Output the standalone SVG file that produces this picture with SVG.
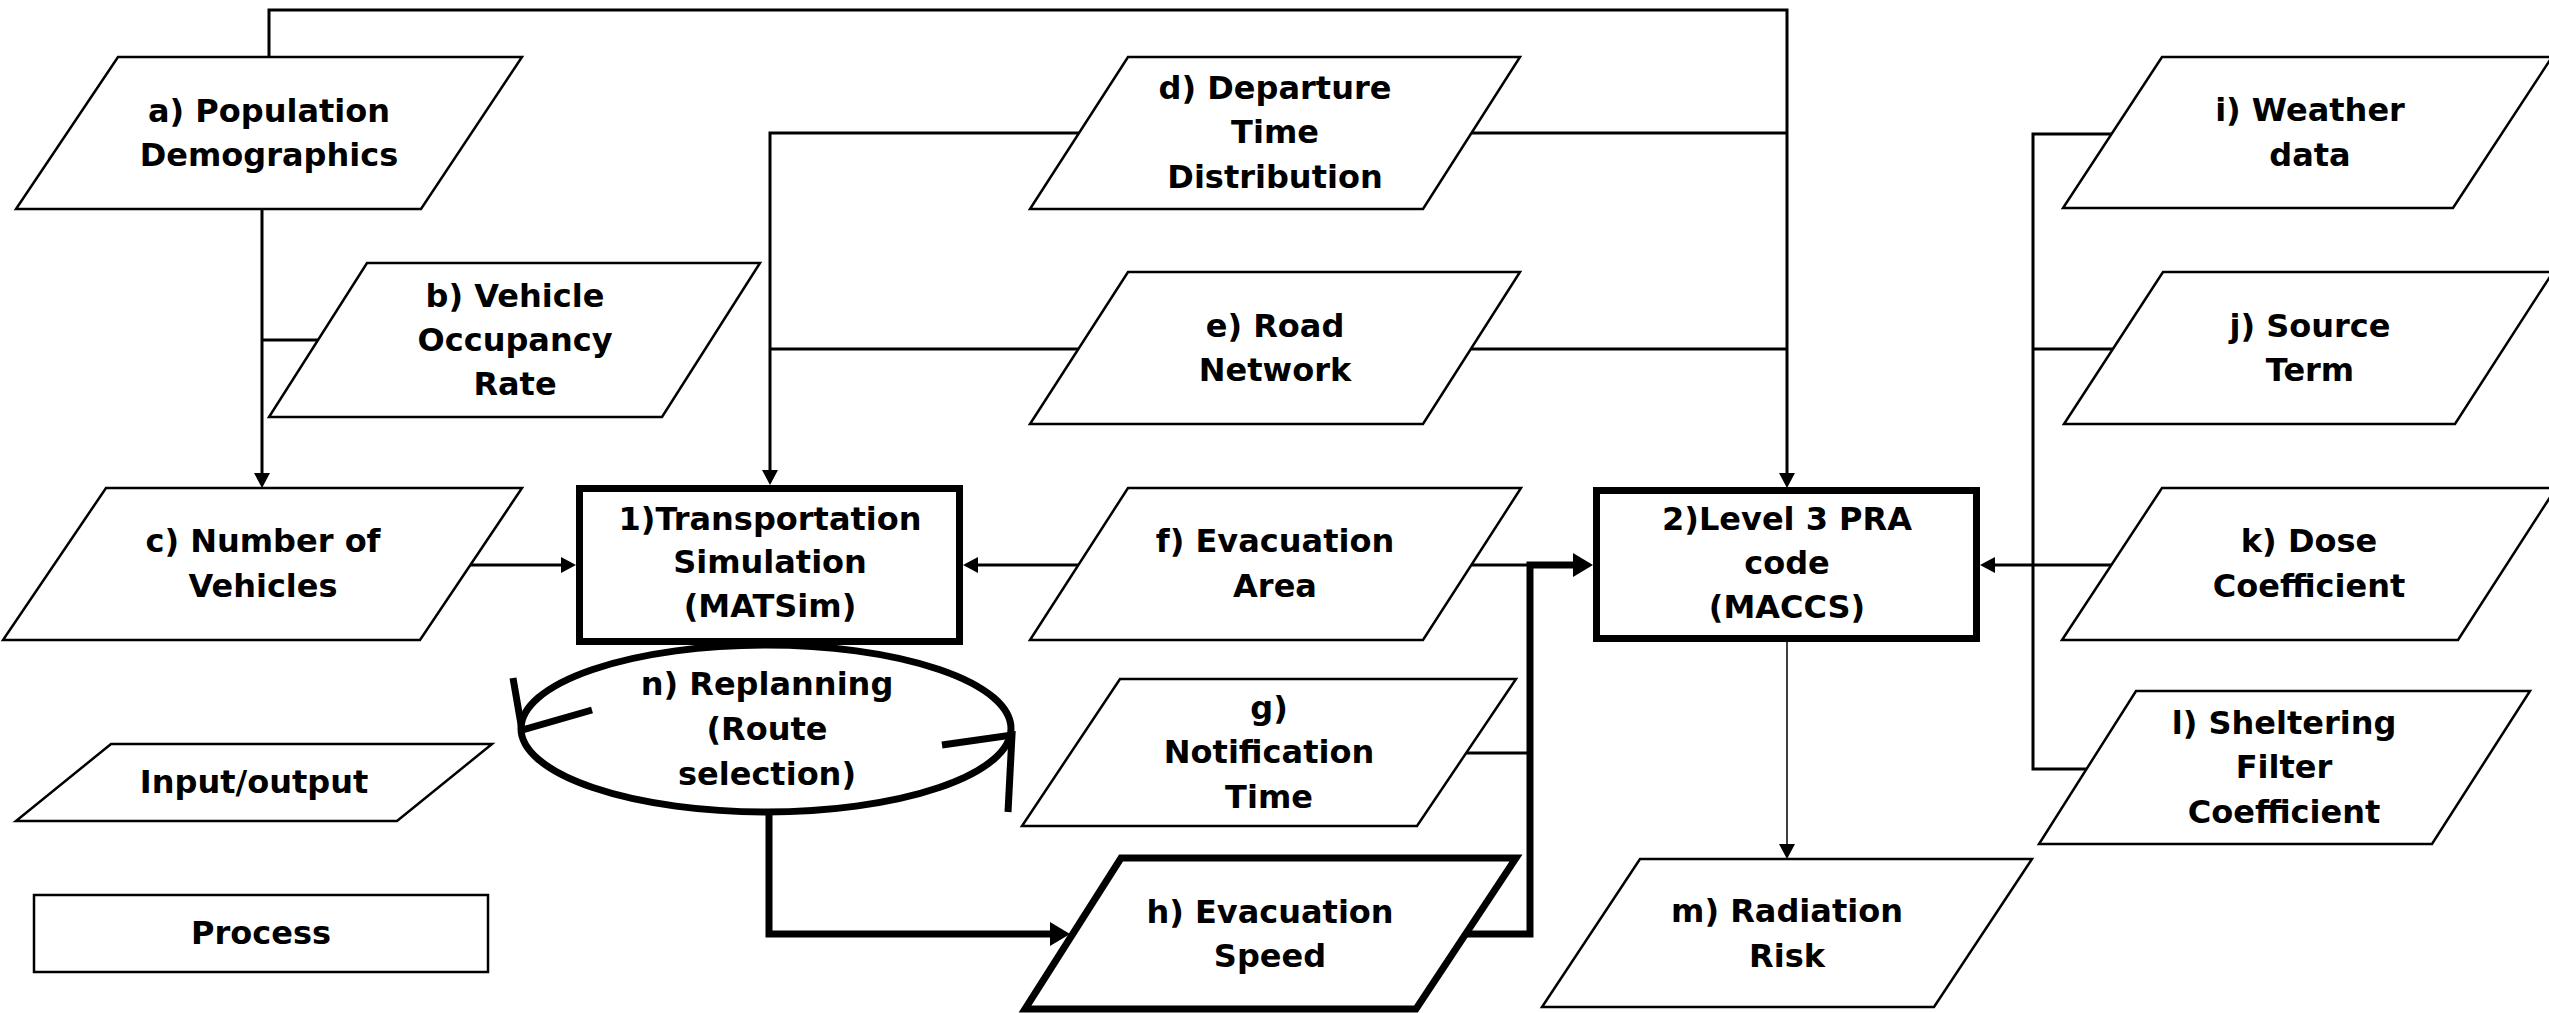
<svg xmlns="http://www.w3.org/2000/svg" width="2549" height="1013" viewBox="0 0 2549 1013">
<style>
  .io { fill: #fff; stroke: #000; stroke-width: 2.5; stroke-linejoin: miter; }
  .thick { fill: #fff; stroke: #000; stroke-width: 7; }
  .proc { fill: #fff; stroke: #000; stroke-width: 7; }
  .legend { fill: #fff; stroke: #000; stroke-width: 2.5; }
  .lbl { font-family: "DejaVu Sans", "Liberation Sans", sans-serif; font-weight: bold; font-size: 32px; text-anchor: middle; fill: #000; }
  .c { fill: none; stroke: #000; stroke-width: 3; }
  .cf { fill: none; stroke: #000; stroke-width: 1.5; }
  .ct { fill: none; stroke: #000; stroke-width: 7; }
</style>
<defs>
  <marker id="arr" markerUnits="userSpaceOnUse" viewBox="0 0 15 16" markerWidth="15" markerHeight="16" refX="0" refY="8" orient="auto">
    <path d="M0,0 L15,8 L0,16 z" fill="#000"/>
  </marker>
  <marker id="arrT" markerUnits="userSpaceOnUse" viewBox="0 0 20 24" markerWidth="20" markerHeight="24" refX="0" refY="12" orient="auto">
    <path d="M0,0 L20,12 L0,24 z" fill="#000"/>
  </marker>
</defs>

<g id="connectors">
  <path class="c" d="M269,57 V10 H1787 V473" marker-end="url(#arr)"/>
  <path class="c" d="M1472,133 H1787"/>
  <path class="c" d="M1471,349 H1787"/>
  <path class="c" d="M1079,133 H770 V470" marker-end="url(#arr)"/>
  <path class="c" d="M1078,349 H770"/>
  <path class="c" d="M262,209 V473" marker-end="url(#arr)"/>
  <path class="c" d="M318,340 H262"/>
  <path class="c" d="M470,565 H561" marker-end="url(#arr)"/>
  <path class="c" d="M1078,565 H978" marker-end="url(#arr)"/>
  <path class="c" d="M1472,565 H1530"/>
  <path class="c" d="M1466,753 H1530"/>
  <path class="c" d="M2113,134 H2033 V769 H2086"/>
  <path class="c" d="M2113,349 H2033"/>
  <path class="c" d="M2111,565 H1995" marker-end="url(#arr)"/>
  <path class="cf" d="M1787,642 V844" marker-end="url(#arr)"/>
  <path class="ct" d="M1466,934 H1530 V565 H1573" marker-end="url(#arrT)"/>
  <path class="ct" d="M769,812 V934 H1050" marker-end="url(#arrT)"/>
</g>

<g id="node-a">
  <polygon class="io" points="118,57 522,57 421,209 16,209"/>
  <text class="lbl" x="269" y="122">a) Population</text>
  <text class="lbl" x="269" y="166">Demographics</text>
</g>
<g id="node-b">
  <polygon class="io" points="367,263 760,263 662,417 269,417"/>
  <text class="lbl" x="515" y="307">b) Vehicle</text>
  <text class="lbl" x="515" y="351">Occupancy</text>
  <text class="lbl" x="515" y="395">Rate</text>
</g>
<g id="node-c">
  <polygon class="io" points="106,488 522,488 420,640 3,640"/>
  <text class="lbl" x="263" y="552">c) Number of</text>
  <text class="lbl" x="263" y="597">Vehicles</text>
</g>
<g id="node-d">
  <polygon class="io" points="1128,57 1520,57 1423,209 1030,209"/>
  <text class="lbl" x="1275" y="99">d) Departure</text>
  <text class="lbl" x="1275" y="143">Time</text>
  <text class="lbl" x="1275" y="188">Distribution</text>
</g>
<g id="node-e">
  <polygon class="io" points="1128,272 1520,272 1423,424 1030,424"/>
  <text class="lbl" x="1275" y="337">e) Road</text>
  <text class="lbl" x="1275" y="381">Network</text>
</g>
<g id="node-f">
  <polygon class="io" points="1128,488 1521,488 1423,640 1030,640"/>
  <text class="lbl" x="1275" y="552">f) Evacuation</text>
  <text class="lbl" x="1275" y="597">Area</text>
</g>
<g id="node-g">
  <polygon class="io" points="1120,679 1516,679 1417,826 1022,826"/>
  <text class="lbl" x="1269" y="719">g)</text>
  <text class="lbl" x="1269" y="763">Notification</text>
  <text class="lbl" x="1269" y="808">Time</text>
</g>
<g id="node-h">
  <polygon class="thick" points="1121,858 1516,858 1416,1009 1025,1009"/>
  <text class="lbl" x="1270" y="923">h) Evacuation</text>
  <text class="lbl" x="1270" y="967">Speed</text>
</g>
<g id="node-i">
  <polygon class="io" points="2162,57 2552,57 2453,208 2063,208"/>
  <text class="lbl" x="2310" y="121">i) Weather</text>
  <text class="lbl" x="2310" y="166">data</text>
</g>
<g id="node-j">
  <polygon class="io" points="2163,272 2553,272 2455,424 2064,424"/>
  <text class="lbl" x="2310" y="337">j) Source</text>
  <text class="lbl" x="2310" y="381">Term</text>
</g>
<g id="node-k">
  <polygon class="io" points="2162,488 2556,488 2458,640 2062,640"/>
  <text class="lbl" x="2309" y="552">k) Dose</text>
  <text class="lbl" x="2309" y="597">Coefficient</text>
</g>
<g id="node-l">
  <polygon class="io" points="2136,691 2530,691 2432,844 2039,844"/>
  <text class="lbl" x="2284" y="734">l) Sheltering</text>
  <text class="lbl" x="2284" y="778">Filter</text>
  <text class="lbl" x="2284" y="823">Coefficient</text>
</g>
<g id="node-m">
  <polygon class="io" points="1640,859 2032,859 1934,1007 1542,1007"/>
  <text class="lbl" x="1787" y="922">m) Radiation</text>
  <text class="lbl" x="1787" y="967">Risk</text>
</g>
<g id="node-1">
  <rect class="proc" x="579.5" y="488.5" width="380" height="153"/>
  <text class="lbl" x="770" y="530">1)Transportation</text>
  <text class="lbl" x="770" y="573">Simulation</text>
  <text class="lbl" x="770" y="617">(MATSim)</text>
</g>
<g id="node-2">
  <rect class="proc" x="1596.5" y="490.5" width="380" height="148"/>
  <text class="lbl" x="1787" y="530">2)Level 3 PRA</text>
  <text class="lbl" x="1787" y="574">code</text>
  <text class="lbl" x="1787" y="618">(MACCS)</text>
</g>
<g id="node-n">
  <ellipse cx="766" cy="728.5" rx="245" ry="83.5" fill="#fff" stroke="#000" stroke-width="7"/>
  <polyline points="513,678 522,730 592,710" fill="none" stroke="#000" stroke-width="7"/>
  <polyline points="942,745 1012,735 1008,812" fill="none" stroke="#000" stroke-width="7"/>
  <text class="lbl" x="767" y="695">n) Replanning</text>
  <text class="lbl" x="767" y="740">(Route</text>
  <text class="lbl" x="767" y="785">selection)</text>
</g>
<g id="legend-io">
  <polygon class="legend" points="111,744 492,744 397,821 16,821"/>
  <text class="lbl" x="254" y="793">Input/output</text>
</g>
<g id="legend-process">
  <rect class="legend" x="34" y="895" width="454" height="77"/>
  <text class="lbl" x="261" y="944">Process</text>
</g>
</svg>
